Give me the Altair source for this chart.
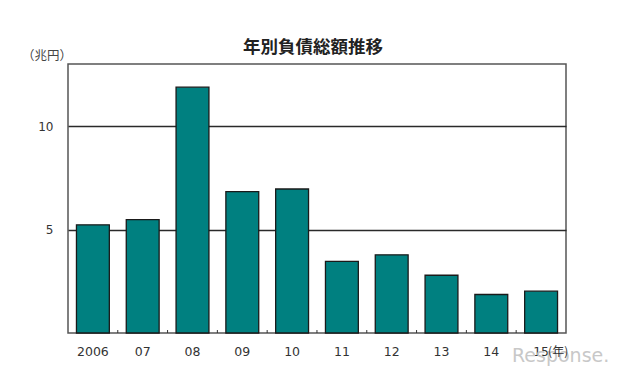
import altair as alt
import pandas as pd

years = ["2006", "07", "08", "09", "10", "11", "12", "13", "14", "15"]
values = [5.23, 5.48, 11.88, 6.83, 6.96, 3.46, 3.78, 2.79, 1.86, 2.02]
y_ticks = [5, 10]
title_text = "年別負債総額推移"
unit_text = "（兆円）"
year_suffix = "(年)"

W, H = 498, 269
FONT = "Noto Sans CJK JP"
LFONT = "DejaVu Sans"

df = pd.DataFrame({"year": years, "value": values})
tick_df = pd.DataFrame({"year": years[1:]})
suffix_df = pd.DataFrame({"year": [years[-1]], "t": [year_suffix]})

xscale = alt.Scale(domain=years, paddingInner=0.34, paddingOuter=0.17)
yscale = alt.Scale(domain=[0, 13], nice=False)

bars = alt.Chart(df).mark_bar(
    color="#008080", stroke="#1a1a1a", strokeWidth=1.3
).encode(
    x=alt.X("year:N", scale=xscale, sort=None,
            axis=alt.Axis(title=None, labelAngle=0, ticks=False, domain=False,
                          labelPadding=12, labelFont=LFONT, labelFontSize=12.5,
                          labelColor="#333")),
    y=alt.Y("value:Q", scale=yscale,
            axis=alt.Axis(title=None, values=y_ticks, ticks=False, domain=False,
                          grid=True, gridColor="#2a2a2a", gridWidth=1.5,
                          labelPadding=15, labelFont=LFONT, labelFontSize=12,
                          labelColor="#333")),
)

ticks = alt.Chart(tick_df).mark_rule(color="#333", xOffset=-8.5, strokeWidth=1).encode(
    x=alt.X("year:N", scale=xscale, sort=None, bandPosition=0),
    y=alt.value(H - 3), y2=alt.value(H),
)

suffix = alt.Chart(suffix_df).mark_text(
    align="left", dx=7, font=FONT, fontSize=12, color="#333", baseline="middle"
).encode(
    x=alt.X("year:N", scale=xscale, sort=None),
    y=alt.value(H + 19),
    text="t:N",
)

unit = alt.Chart(pd.DataFrame({"t": [unit_text]})).mark_text(
    font=FONT, fontSize=12.5, color="#444", baseline="middle", align="center"
).encode(x=alt.value(-21), y=alt.value(-8), text="t:N")

title = alt.Chart(pd.DataFrame({"t": [title_text]})).mark_text(
    font=FONT, fontSize=17.5, fontWeight="bold", color="#222",
    baseline="middle", align="center"
).encode(x=alt.value(W / 2 - 4), y=alt.value(-16), text="t:N")

mark_wm = alt.Chart(pd.DataFrame({"t": ["Response."]})).mark_text(
    font="DejaVu Sans", fontSize=19, color="#c8c8c8", align="left", baseline="middle"
).encode(x=alt.value(W - 54), y=alt.value(H + 23), text="t:N")

chart = alt.layer(mark_wm, bars, ticks, suffix, unit, title).properties(
    width=W, height=H,
    autosize=alt.AutoSizeParams(type="none"),
    padding={"left": 60, "top": 56, "right": 66, "bottom": 37},
).configure(background="white").configure_view(stroke="#555", strokeWidth=1.5)

chart.save("out.html", embed_options={"renderer": "svg", "actions": False})
